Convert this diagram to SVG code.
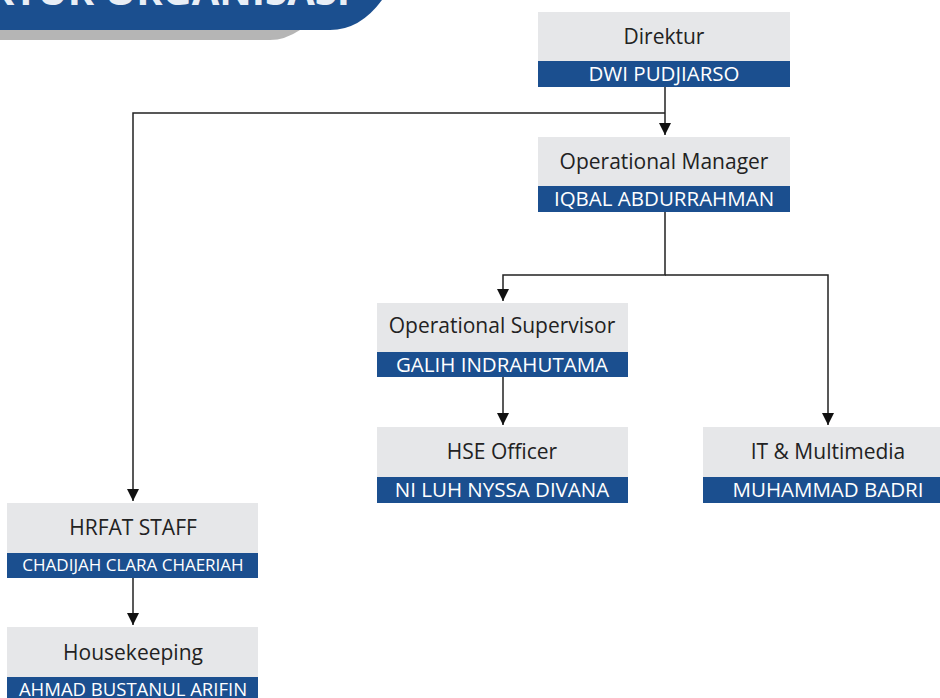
<svg xmlns="http://www.w3.org/2000/svg" width="940" height="698" viewBox="0 0 940 698">
<defs>
<style>
.box{fill:#e6e7e9}
.band{fill:#1b4f8f}
.t{font-family:"Open Sans","Liberation Sans",sans-serif;font-size:21px;fill:#222;text-anchor:middle}
.n{font-family:"Open Sans","Liberation Sans",sans-serif;font-size:20.5px;fill:#fff;text-anchor:middle}
.c{fill:none;stroke:#222;stroke-width:1.5}
</style>
<marker id="ah" markerWidth="14" markerHeight="14" refX="12" refY="7" orient="auto" markerUnits="userSpaceOnUse">
<path d="M0,1 L12,7 L0,13 Z" fill="#111"/>
</marker>
</defs>
<rect width="940" height="698" fill="#fff"/>
<g id="banner">
<path d="M0,0 H330 Q300,40 270,40 H0 Z" fill="#b5b5b5"/>
<path d="M0,0 H382 Q360,30 330,30 H0 Z" fill="#1b4f8f"/>
<text x="350" y="5" font-family="Open Sans, Liberation Sans, sans-serif" font-weight="bold" font-size="40" fill="#e8eef6" text-anchor="end">STRUKTUR ORGANISASI</text>
</g>
<g id="connectors">
<path class="c" d="M665,87 V135" marker-end="url(#ah)"/>
<path class="c" d="M665,113 H133 V501" marker-end="url(#ah)"/>
<path class="c" d="M665,212 V275 H503 V301" marker-end="url(#ah)"/>
<path class="c" d="M665,275 H828 V425" marker-end="url(#ah)"/>
<path class="c" d="M503,377 V425" marker-end="url(#ah)"/>
<path class="c" d="M133,577 V625" marker-end="url(#ah)"/>
</g>
<g id="direktur">
<rect class="box" x="538" y="12" width="252" height="50"/>
<rect class="band" x="538" y="61" width="252" height="26"/>
<text class="t" x="664" y="44">Direktur</text>
<text class="n" x="664" y="81">DWI PUDJIARSO</text>
</g>
<g id="opmanager">
<rect class="box" x="538" y="137" width="252" height="50"/>
<rect class="band" x="538" y="186" width="252" height="26"/>
<text class="t" x="664" y="169">Operational Manager</text>
<text class="n" x="664" y="206">IQBAL ABDURRAHMAN</text>
</g>
<g id="opsupervisor">
<rect class="box" x="377" y="303" width="251" height="50"/>
<rect class="band" x="377" y="352" width="251" height="25"/>
<text class="t" x="502" y="333">Operational Supervisor</text>
<text class="n" x="502" y="372">GALIH INDRAHUTAMA</text>
</g>
<g id="hse">
<rect class="box" x="377" y="427" width="251" height="50"/>
<rect class="band" x="377" y="477" width="251" height="26"/>
<text class="t" x="502" y="459">HSE Officer</text>
<text class="n" x="502" y="497">NI LUH NYSSA DIVANA</text>
</g>
<g id="it">
<rect class="box" x="703" y="427" width="250" height="50"/>
<rect class="band" x="703" y="477" width="250" height="26"/>
<text class="t" x="828" y="459">IT &amp; Multimedia</text>
<text class="n" x="828" y="497">MUHAMMAD BADRI</text>
</g>
<g id="hrfat">
<rect class="box" x="7" y="503" width="251" height="50"/>
<rect class="band" x="7" y="553" width="251" height="25"/>
<text class="t" x="133" y="535">HRFAT STAFF</text>
<text class="n" x="133" y="571" style="font-size:17px">CHADIJAH CLARA CHAERIAH</text>
</g>
<g id="housekeeping">
<rect class="box" x="7" y="627" width="251" height="51"/>
<rect class="band" x="7" y="677" width="251" height="26"/>
<text class="t" x="133" y="660">Housekeeping</text>
<text class="n" x="133" y="696" style="font-size:18.5px">AHMAD BUSTANUL ARIFIN</text>
</g>
</svg>
